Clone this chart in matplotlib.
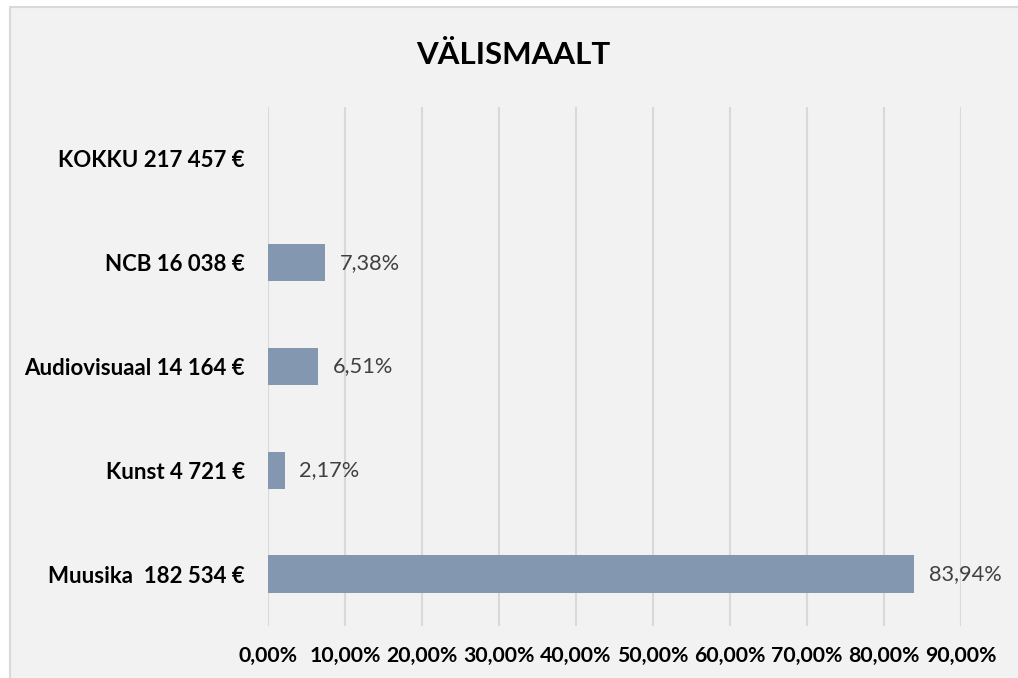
import matplotlib
matplotlib.use("Agg")
import matplotlib.pyplot as plt
from matplotlib.patches import Rectangle

plt.rcParams['font.family'] = ['Lato', 'DejaVu Sans']

kategooriad = ["Muusika  182 534 €", "Kunst 4 721 €", "Audiovisuaal 14 164 €",
               "NCB 16 038 €", "KOKKU 217 457 €"]
osakaalud = [83.94, 2.17, 6.51, 7.38, None]
sildid = ["83,94%", "2,17%", "6,51%", "7,38%", None]
x_tikid = [0, 10, 20, 30, 40, 50, 60, 70, 80, 90]
x_sildid = ["0,00%", "10,00%", "20,00%", "30,00%", "40,00%", "50,00%",
            "60,00%", "70,00%", "80,00%", "90,00%"]

fig = plt.figure(figsize=(10.18, 6.78), dpi=100)
fig.patch.set_facecolor("white")

# diagrammi taust ja raam eraldi teljestikul
taust = fig.add_axes([0, 0, 1, 1], zorder=-1)
taust.set_xlim(0, 1018)
taust.set_ylim(678, 0)
taust.axis("off")
taust.add_patch(Rectangle((10, 7), 1020, 690, facecolor="#F2F2F2",
                          edgecolor="#D9D9D9", linewidth=1.5))

ax = fig.add_axes([268 / 1018, 1 - 626 / 678, 693 / 1018, 519 / 678])
ax.set_facecolor("none")

pos = list(range(len(kategooriad)))
vaartused = [v if v is not None else 0 for v in osakaalud]
bars = ax.barh(pos, vaartused, height=0.36, color="#8497B0", zorder=3)

for b, v, s in zip(bars, osakaalud, sildid):
    if v is None:
        b.set_visible(False)
        continue
    ax.text(v + 1.9, b.get_y() + b.get_height() / 2, s, va="center", ha="left",
            fontsize=15.7, color="#404040")

ax.set_xlim(0, 90)
ax.set_ylim(-0.5, len(kategooriad) - 0.5)
ax.set_xticks(x_tikid)
ax.set_xticklabels(x_sildid, fontsize=15.3, fontweight="bold", color="black")
ax.set_yticks(pos)
ax.set_yticklabels(kategooriad, fontsize=16, fontweight="bold", color="black")
ax.tick_params(axis="both", length=0)
ax.tick_params(axis="x", pad=14.5)
ax.tick_params(axis="y", pad=16.5)
ax.grid(axis="x", color="#D9D9D9", linewidth=1.5, zorder=0)
ax.set_axisbelow(True)
for sp in ax.spines.values():
    sp.set_visible(False)

fig.text(513 / 1018, 1 - 55 / 678, "VÄLISMAALT", ha="center", va="center",
         fontsize=22.5, fontweight="bold", color="black")

fig.savefig("out.png", dpi=100)
